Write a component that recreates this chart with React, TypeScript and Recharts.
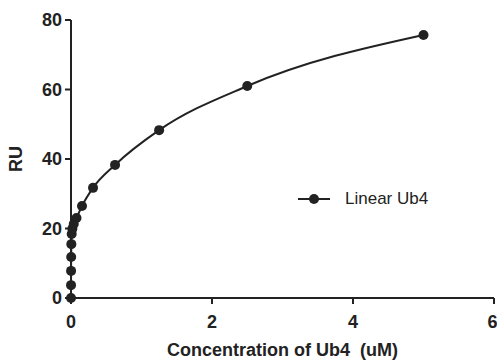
import { LineChart, Line, XAxis, YAxis, Label } from "recharts";

const concentration = [0, 0.0006, 0.0012, 0.0025, 0.005, 0.0098, 0.0195, 0.039, 0.078, 0.156, 0.3125, 0.625, 1.25, 2.5, 5];
const response = [0, 3.7, 7.8, 11.8, 15.5, 18.4, 19.9, 21.3, 23, 26.5, 31.7, 38.3, 48.3, 61, 75.7];
const xTicks = [0, 2, 4, 6];
const yTicks = [0, 20, 40, 60, 80];
const seriesName = "Linear Ub4";

const data = concentration.map((c, i) => ({ c, ru: response[i] }));

const ink = "#222";
const font = "'Liberation Sans', Arial, sans-serif";

// legend drawn as an overlay so it does not take room from the plot
function LegendBox() {
  return (
    <div
      style={{
        position: "absolute",
        left: 296,
        top: 189,
        display: "flex",
        alignItems: "center",
        fontFamily: font,
        fontSize: 17,
        color: ink,
      }}
    >
      <svg width={36} height={14}>
        <line x1={2} y1={7} x2={34} y2={7} stroke={ink} strokeWidth={2} />
        <circle cx={18} cy={7} r={5} fill={ink} />
      </svg>
      <span style={{ marginLeft: 13 }}>{seriesName}</span>
    </div>
  );
}

export default function App() {
  return (
    <div style={{ position: "absolute", left: 0, top: 0, width: 497, height: 362, background: "#fff" }}>
      <LineChart width={497} height={362} data={data} margin={{ top: 20, right: 3, left: 0, bottom: 0 }}>
        <XAxis
          dataKey="c"
          type="number"
          domain={[0, 6]}
          ticks={xTicks}
          height={64}
          stroke={ink}
          strokeWidth={2}
          tickSize={6}
          tickMargin={11}
          tick={{ fill: ink, fontSize: 18, fontWeight: "bold", fontFamily: font }}
        >
          <Label
            value={"Concentration of Ub4\u00a0\u00a0(uM)"}
            position="insideBottom"
            offset={6}
            style={{ fill: ink, fontSize: 18, fontWeight: "bold", fontFamily: font }}
          />
        </XAxis>
        <YAxis
          type="number"
          domain={[0, 80]}
          ticks={yTicks}
          width={71}
          stroke={ink}
          strokeWidth={2}
          tickSize={6}
          tickMargin={3}
          tick={{ fill: ink, fontSize: 18, fontWeight: "bold", fontFamily: font }}
        >
          <Label
            value="RU"
            angle={-90}
            position="insideLeft"
            offset={16}
            style={{ fill: ink, fontSize: 18, fontWeight: "bold", fontFamily: font, textAnchor: "middle" }}
          />
        </YAxis>
        <Line
          dataKey="ru"
          name={seriesName}
          type="monotone"
          stroke={ink}
          strokeWidth={2}
          dot={{ r: 5, fill: ink, stroke: ink, strokeWidth: 0 }}
          isAnimationActive={false}
        />
      </LineChart>
      <LegendBox />
    </div>
  );
}
